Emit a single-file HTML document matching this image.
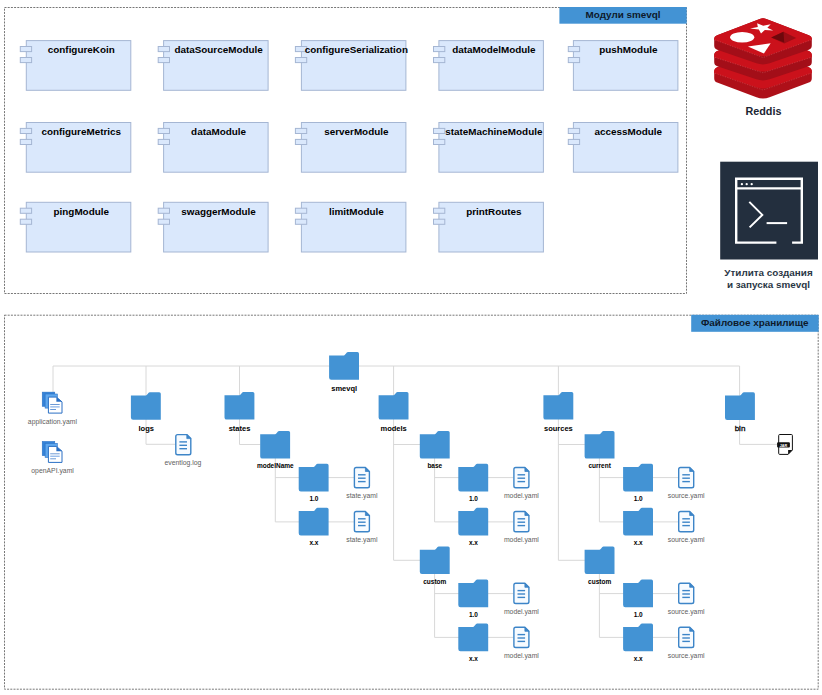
<!DOCTYPE html><html><head><meta charset="utf-8"><style>html,body{margin:0;padding:0;background:#fff;width:822px;height:695px;overflow:hidden}svg{display:block;font-family:"Liberation Sans",sans-serif}</style></head><body>
<svg width="822" height="695" viewBox="0 0 822 695">
<rect width="822" height="695" fill="#fff"/>
<rect x="4.5" y="7.5" width="682" height="286" fill="none" stroke="#777" stroke-width="1" stroke-dasharray="2 1.2"/>
<rect x="559.4" y="7" width="127.3" height="16.7" fill="#4393d4"/>
<text x="623.00" y="18.00" font-size="9.9" font-weight="bold" fill="#0e1a2b" text-anchor="middle">Модули smevql</text>
<rect x="26.30" y="40.60" width="104.5" height="49.7" fill="#dae8fc" stroke="#a5b6d3" stroke-width="1"/><rect x="20.30" y="46.50" width="11.3" height="5.1" fill="#dae8fc" stroke="#a5b6d3" stroke-width="1"/><rect x="20.30" y="57.50" width="11.3" height="5.1" fill="#dae8fc" stroke="#a5b6d3" stroke-width="1"/><text x="81.25" y="52.90" font-size="9.9" font-weight="bold" fill="#000" text-anchor="middle">configureKoin</text>
<rect x="163.60" y="40.60" width="104.5" height="49.7" fill="#dae8fc" stroke="#a5b6d3" stroke-width="1"/><rect x="158.20" y="46.50" width="11.3" height="5.1" fill="#dae8fc" stroke="#a5b6d3" stroke-width="1"/><rect x="158.20" y="57.50" width="11.3" height="5.1" fill="#dae8fc" stroke="#a5b6d3" stroke-width="1"/><text x="218.55" y="52.90" font-size="9.9" font-weight="bold" fill="#000" text-anchor="middle">dataSourceModule</text>
<rect x="301.40" y="40.60" width="104.5" height="49.7" fill="#dae8fc" stroke="#a5b6d3" stroke-width="1"/><rect x="295.40" y="46.50" width="11.3" height="5.1" fill="#dae8fc" stroke="#a5b6d3" stroke-width="1"/><rect x="295.40" y="57.50" width="11.3" height="5.1" fill="#dae8fc" stroke="#a5b6d3" stroke-width="1"/><text x="356.35" y="52.90" font-size="9.9" font-weight="bold" fill="#000" text-anchor="middle">configureSerialization</text>
<rect x="438.90" y="40.60" width="104.5" height="49.7" fill="#dae8fc" stroke="#a5b6d3" stroke-width="1"/><rect x="433.50" y="46.50" width="11.3" height="5.1" fill="#dae8fc" stroke="#a5b6d3" stroke-width="1"/><rect x="433.50" y="57.50" width="11.3" height="5.1" fill="#dae8fc" stroke="#a5b6d3" stroke-width="1"/><text x="493.85" y="52.90" font-size="9.9" font-weight="bold" fill="#000" text-anchor="middle">dataModelModule</text>
<rect x="573.40" y="40.60" width="104.5" height="49.7" fill="#dae8fc" stroke="#a5b6d3" stroke-width="1"/><rect x="568.30" y="46.50" width="11.3" height="5.1" fill="#dae8fc" stroke="#a5b6d3" stroke-width="1"/><rect x="568.30" y="57.50" width="11.3" height="5.1" fill="#dae8fc" stroke="#a5b6d3" stroke-width="1"/><text x="628.35" y="52.90" font-size="9.9" font-weight="bold" fill="#000" text-anchor="middle">pushModule</text>
<rect x="26.30" y="122.50" width="104.5" height="49.7" fill="#dae8fc" stroke="#a5b6d3" stroke-width="1"/><rect x="20.30" y="128.40" width="11.3" height="5.1" fill="#dae8fc" stroke="#a5b6d3" stroke-width="1"/><rect x="20.30" y="139.40" width="11.3" height="5.1" fill="#dae8fc" stroke="#a5b6d3" stroke-width="1"/><text x="81.25" y="134.80" font-size="9.9" font-weight="bold" fill="#000" text-anchor="middle">configureMetrics</text>
<rect x="163.60" y="122.50" width="104.5" height="49.7" fill="#dae8fc" stroke="#a5b6d3" stroke-width="1"/><rect x="158.20" y="128.40" width="11.3" height="5.1" fill="#dae8fc" stroke="#a5b6d3" stroke-width="1"/><rect x="158.20" y="139.40" width="11.3" height="5.1" fill="#dae8fc" stroke="#a5b6d3" stroke-width="1"/><text x="218.55" y="134.80" font-size="9.9" font-weight="bold" fill="#000" text-anchor="middle">dataModule</text>
<rect x="301.40" y="122.50" width="104.5" height="49.7" fill="#dae8fc" stroke="#a5b6d3" stroke-width="1"/><rect x="295.40" y="128.40" width="11.3" height="5.1" fill="#dae8fc" stroke="#a5b6d3" stroke-width="1"/><rect x="295.40" y="139.40" width="11.3" height="5.1" fill="#dae8fc" stroke="#a5b6d3" stroke-width="1"/><text x="356.35" y="134.80" font-size="9.9" font-weight="bold" fill="#000" text-anchor="middle">serverModule</text>
<rect x="438.90" y="122.50" width="104.5" height="49.7" fill="#dae8fc" stroke="#a5b6d3" stroke-width="1"/><rect x="433.50" y="128.40" width="11.3" height="5.1" fill="#dae8fc" stroke="#a5b6d3" stroke-width="1"/><rect x="433.50" y="139.40" width="11.3" height="5.1" fill="#dae8fc" stroke="#a5b6d3" stroke-width="1"/><text x="493.85" y="134.80" font-size="9.9" font-weight="bold" fill="#000" text-anchor="middle">stateMachineModule</text>
<rect x="573.40" y="122.50" width="104.5" height="49.7" fill="#dae8fc" stroke="#a5b6d3" stroke-width="1"/><rect x="568.30" y="128.40" width="11.3" height="5.1" fill="#dae8fc" stroke="#a5b6d3" stroke-width="1"/><rect x="568.30" y="139.40" width="11.3" height="5.1" fill="#dae8fc" stroke="#a5b6d3" stroke-width="1"/><text x="628.35" y="134.80" font-size="9.9" font-weight="bold" fill="#000" text-anchor="middle">accessModule</text>
<rect x="26.30" y="202.30" width="104.5" height="49.7" fill="#dae8fc" stroke="#a5b6d3" stroke-width="1"/><rect x="20.30" y="208.20" width="11.3" height="5.1" fill="#dae8fc" stroke="#a5b6d3" stroke-width="1"/><rect x="20.30" y="219.20" width="11.3" height="5.1" fill="#dae8fc" stroke="#a5b6d3" stroke-width="1"/><text x="81.25" y="214.60" font-size="9.9" font-weight="bold" fill="#000" text-anchor="middle">pingModule</text>
<rect x="163.60" y="202.30" width="104.5" height="49.7" fill="#dae8fc" stroke="#a5b6d3" stroke-width="1"/><rect x="158.20" y="208.20" width="11.3" height="5.1" fill="#dae8fc" stroke="#a5b6d3" stroke-width="1"/><rect x="158.20" y="219.20" width="11.3" height="5.1" fill="#dae8fc" stroke="#a5b6d3" stroke-width="1"/><text x="218.55" y="214.60" font-size="9.9" font-weight="bold" fill="#000" text-anchor="middle">swaggerModule</text>
<rect x="301.40" y="202.30" width="104.5" height="49.7" fill="#dae8fc" stroke="#a5b6d3" stroke-width="1"/><rect x="295.40" y="208.20" width="11.3" height="5.1" fill="#dae8fc" stroke="#a5b6d3" stroke-width="1"/><rect x="295.40" y="219.20" width="11.3" height="5.1" fill="#dae8fc" stroke="#a5b6d3" stroke-width="1"/><text x="356.35" y="214.60" font-size="9.9" font-weight="bold" fill="#000" text-anchor="middle">limitModule</text>
<rect x="438.90" y="202.30" width="104.5" height="49.7" fill="#dae8fc" stroke="#a5b6d3" stroke-width="1"/><rect x="433.50" y="208.20" width="11.3" height="5.1" fill="#dae8fc" stroke="#a5b6d3" stroke-width="1"/><rect x="433.50" y="219.20" width="11.3" height="5.1" fill="#dae8fc" stroke="#a5b6d3" stroke-width="1"/><text x="493.85" y="214.60" font-size="9.9" font-weight="bold" fill="#000" text-anchor="middle">printRoutes</text>
<path d="M714.20,71.60 Q714.20,68.40 717.19,67.27 L759.73,51.23 Q763.00,50.00 766.27,51.23 L808.81,67.27 Q811.80,68.40 811.80,71.60 L811.80,78.20 Q811.80,81.40 808.81,82.53 L769.55,97.33 Q763.00,99.80 756.45,97.33 L717.19,82.53 Q714.20,81.40 714.20,78.20 Z" fill="#ae1019"/><path d="M714.20,70.70 Q714.20,68.40 717.19,67.27 L759.73,51.23 Q763.00,50.00 766.27,51.23 L808.81,67.27 Q811.80,68.40 811.80,70.70 L811.80,73.00 Q811.80,73.00 811.80,73.00 L769.63,87.35 Q763.00,89.60 756.37,87.35 L714.20,73.00 Q714.20,73.00 714.20,73.00 Z" fill="#cb111b"/><path d="M714.20,55.20 Q714.20,52.00 717.20,50.89 L759.72,35.21 Q763.00,34.00 766.28,35.21 L808.80,50.89 Q811.80,52.00 811.80,55.20 L811.80,62.10 Q811.80,65.30 808.76,66.31 L769.64,79.29 Q763.00,81.50 756.36,79.29 L717.24,66.31 Q714.20,65.30 714.20,62.10 Z" fill="#a30e18"/><path d="M714.20,54.60 Q714.20,52.00 717.20,50.89 L759.72,35.21 Q763.00,34.00 766.28,35.21 L808.80,50.89 Q811.80,52.00 811.80,54.60 L811.80,57.20 Q811.80,57.20 811.80,57.20 L769.68,70.49 Q763.00,72.60 756.32,70.49 L714.20,57.20 Q714.20,57.20 714.20,57.20 Z" fill="#cb111b"/><path d="M714.20,39.50 Q714.20,36.30 717.19,35.16 L759.73,18.95 Q763.00,17.70 766.27,18.95 L808.81,35.16 Q811.80,36.30 811.80,39.50 L811.80,45.60 Q811.80,48.80 808.77,49.84 L769.62,63.32 Q763.00,65.60 756.38,63.32 L717.23,49.84 Q714.20,48.80 714.20,45.60 Z" fill="#a30e18"/><path d="M714.20,38.00 Q714.20,36.30 717.19,35.16 L759.73,18.95 Q763.00,17.70 766.27,18.95 L808.81,35.16 Q811.80,36.30 811.80,38.00 L811.80,39.70 Q811.80,39.70 811.80,39.70 L769.58,55.01 Q763.00,57.40 756.42,55.01 L714.20,39.70 Q714.20,39.70 714.20,39.70 Z" fill="#cb111b"/><path d="M715,39.9 L763,57.6 L811,39.9 M715,57.4 L763,72.8 L811,57.4 M715,73.2 L763,90.0 L811,73.2" fill="none" stroke="#f0a0a0" stroke-width="0.45" stroke-dasharray="1.3 1.3" opacity="0.55"/><ellipse cx="742.2" cy="37.3" rx="12.1" ry="5.3" fill="#fff"/><polygon points="757.10,23.30 763.18,25.79 770.70,24.20 767.37,27.69 773.20,30.60 764.84,30.11 761.00,33.50 758.84,29.59 750.10,28.60 757.82,26.93" fill="#fff"/><polygon points="747.9,46.6 770.7,43.2 763.9,53.4" fill="#fff"/><polygon points="771.2,37.6 783.5,31.8 796.2,37.9 784.2,43.6" fill="#9a0d15"/><polygon points="771.2,37.6 783.5,31.8 784.2,42.5" fill="#6e080c"/>
<text x="763.40" y="114.60" font-size="10.8" font-weight="bold" fill="#1b2533" text-anchor="middle">Reddis</text>
<rect x="720.2" y="161.7" width="97.8" height="97.8" fill="#232f3e"/>
<g fill="none" stroke="#fff" stroke-width="2.4"><path d="M776.4,242.6 L736.2,242.6 L736.2,178.8 L801.8,178.8 L801.8,242.6 L792.1,242.6"/><line x1="736.2" y1="188.4" x2="801.8" y2="188.4"/><path d="M749.3,201.9 L762.3,214.9 L749.6,227.4" stroke-width="2"/><line x1="766.6" y1="223.1" x2="787.1" y2="223.1" stroke-width="2"/></g>
<circle cx="741.9" cy="184.2" r="1.15" fill="#fff"/>
<circle cx="746.7" cy="184.2" r="1.15" fill="#fff"/>
<circle cx="751.7" cy="184.2" r="1.15" fill="#fff"/>
<text x="768.50" y="276.30" font-size="9.9" font-weight="bold" fill="#2a3645" text-anchor="middle">Утилита создания</text>
<text x="768.50" y="288.00" font-size="9.9" font-weight="bold" fill="#2a3645" text-anchor="middle">и запуска smevql</text>
<rect x="4.5" y="315.2" width="813.7" height="374" fill="none" stroke="#777" stroke-width="1" stroke-dasharray="2 1.2"/>
<rect x="691.2" y="314.8" width="127.5" height="17" fill="#4393d4"/>
<text x="754.70" y="326.10" font-size="9.9" font-weight="bold" fill="#0e1a2b" text-anchor="middle">Файловое хранилище</text>
<path d="M53,366.0 L739.6,366.0 M53,366.0 L53,392 M146,366.0 L146,444.3 M146,444.3 L175.5,444.3 M239.5,366.0 L239.5,444.5 M239.5,444.5 L260.5,444.5 M275.3,458 L275.3,521.9 M275.3,477.6 L354,477.6 M275.3,521.9 L354,521.9 M393.6,366.0 L393.6,560.3 M393.6,444.5 L420.1,444.5 M393.6,560.3 L420.1,560.3 M434.6,458 L434.6,521.9 M434.6,477.6 L513.6,477.6 M434.6,521.9 L513.6,521.9 M434.6,573.5 L434.6,637.4 M434.6,593.6 L513.6,593.6 M434.6,637.4 L513.6,637.4 M558.4000000000001,366.0 L558.4000000000001,560.3 M558.4000000000001,444.5 L584.9000000000001,444.5 M558.4000000000001,560.3 L584.9000000000001,560.3 M599.4000000000001,458 L599.4000000000001,521.9 M599.4000000000001,477.6 L678.4000000000001,477.6 M599.4000000000001,521.9 L678.4000000000001,521.9 M599.4000000000001,573.5 L599.4000000000001,637.4 M599.4000000000001,593.6 L678.4000000000001,593.6 M599.4000000000001,637.4 L678.4000000000001,637.4 M739.6,366.0 L739.6,444.4 M739.6,444.4 L778,444.4" stroke="#d8d8d8" stroke-width="1" fill="none"/>
<rect x="42.20" y="392.10" width="12.6" height="14.3" fill="#3584d8" stroke="#2a6fc4" stroke-width="0.5"/><rect x="45.10" y="394.00" width="12.2" height="14.1" fill="#60a8ee" stroke="#2a6fc4" stroke-width="0.6"/><path d="M48.40,397.10 L56.40,397.10 L62.00,401.86 L62.00,413.10 L48.40,413.10 Z" fill="#ffffff" stroke="#2a6fc4" stroke-width="1.0"/><path d="M56.40,397.10 L56.40,401.86 L62.00,401.86 Z" fill="#2a6fc4"/><line x1="50.20" y1="404.50" x2="59.70" y2="404.50" stroke="#5e8fd0" stroke-width="0.9"/><line x1="50.20" y1="406.90" x2="59.70" y2="406.90" stroke="#7aa8e4" stroke-width="1.1"/><line x1="50.20" y1="409.50" x2="56.00" y2="409.50" stroke="#6a9ad8" stroke-width="1.0"/>
<text x="52.40" y="423.80" font-size="6.85" fill="#5e5e5e" text-anchor="middle">application.yaml</text>
<rect x="42.20" y="441.40" width="12.6" height="14.3" fill="#3584d8" stroke="#2a6fc4" stroke-width="0.5"/><rect x="45.10" y="443.30" width="12.2" height="14.1" fill="#60a8ee" stroke="#2a6fc4" stroke-width="0.6"/><path d="M48.40,446.40 L56.40,446.40 L62.00,451.16 L62.00,462.40 L48.40,462.40 Z" fill="#ffffff" stroke="#2a6fc4" stroke-width="1.0"/><path d="M56.40,446.40 L56.40,451.16 L62.00,451.16 Z" fill="#2a6fc4"/><line x1="50.20" y1="453.80" x2="59.70" y2="453.80" stroke="#5e8fd0" stroke-width="0.9"/><line x1="50.20" y1="456.20" x2="59.70" y2="456.20" stroke="#7aa8e4" stroke-width="1.1"/><line x1="50.20" y1="458.80" x2="56.00" y2="458.80" stroke="#6a9ad8" stroke-width="1.0"/>
<text x="52.60" y="472.70" font-size="6.85" fill="#5e5e5e" text-anchor="middle">openAPI.yaml</text>
<path d="M329.10,355.40 L344.05,355.40 C345.25,355.40 346.34,352.10 347.94,352.10 L357.40,352.10 Q359.00,352.10 359.00,353.70 L359.00,379.70 L331.30,379.70 Q329.10,379.70 329.10,377.50 Z" fill="#4393d4"/>
<text transform="translate(344.20,390.80) scale(0.94,1)" font-size="8.0" font-weight="bold" fill="#000" text-anchor="middle">smevql</text>
<path d="M130.90,395.50 L145.85,395.50 C147.05,395.50 148.14,392.20 149.74,392.20 L159.20,392.20 Q160.80,392.20 160.80,393.80 L160.80,419.80 L133.10,419.80 Q130.90,419.80 130.90,417.60 Z" fill="#4393d4"/>
<text transform="translate(146.20,430.60) scale(0.94,1)" font-size="8.0" font-weight="bold" fill="#000" text-anchor="middle">logs</text>
<path d="M177.60,434.60 L186.80,434.60 L190.80,438.60 L190.80,453.00 Q190.80,454.80 189.00,454.80 L177.60,454.80 Q175.80,454.80 175.80,453.00 L175.80,436.40 Q175.80,434.60 177.60,434.60 Z" fill="#f7fbff" stroke="#3d85c8" stroke-width="1.4" stroke-linejoin="round"/><path d="M186.80,434.60 L186.80,438.60 L190.80,438.60 Z" fill="#3d85c8" stroke="#3d85c8" stroke-width="0.8" stroke-linejoin="round"/><line x1="179.40" y1="441.90" x2="187.00" y2="441.90" stroke="#3d85c8" stroke-width="1.4"/><line x1="179.40" y1="445.30" x2="187.00" y2="445.30" stroke="#3d85c8" stroke-width="1.4"/><line x1="179.40" y1="448.70" x2="187.00" y2="448.70" stroke="#3d85c8" stroke-width="1.4"/>
<text x="182.90" y="464.90" font-size="6.85" fill="#5e5e5e" text-anchor="middle">eventlog.log</text>
<path d="M224.50,395.30 L239.45,395.30 C240.65,395.30 241.74,392.00 243.34,392.00 L252.80,392.00 Q254.40,392.00 254.40,393.60 L254.40,419.60 L226.70,419.60 Q224.50,419.60 224.50,417.40 Z" fill="#4393d4"/>
<text transform="translate(239.50,430.50) scale(0.94,1)" font-size="8.0" font-weight="bold" fill="#000" text-anchor="middle">states</text>
<path d="M260.20,434.30 L275.15,434.30 C276.35,434.30 277.44,431.00 279.04,431.00 L288.50,431.00 Q290.10,431.00 290.10,432.60 L290.10,458.60 L262.40,458.60 Q260.20,458.60 260.20,456.40 Z" fill="#4393d4"/>
<text transform="translate(275.30,467.80) scale(0.93,1)" font-size="7.0" font-weight="bold" fill="#000" text-anchor="middle">modelName</text>
<path d="M298.70,467.10 L313.65,467.10 C314.85,467.10 315.94,463.80 317.54,463.80 L327.00,463.80 Q328.60,463.80 328.60,465.40 L328.60,491.40 L300.90,491.40 Q298.70,491.40 298.70,489.20 Z" fill="#4393d4"/>
<text transform="translate(313.90,500.70) scale(0.93,1)" font-size="7.0" font-weight="bold" fill="#000" text-anchor="middle">1.0</text>
<path d="M356.20,467.50 L365.40,467.50 L369.40,471.50 L369.40,485.90 Q369.40,487.70 367.60,487.70 L356.20,487.70 Q354.40,487.70 354.40,485.90 L354.40,469.30 Q354.40,467.50 356.20,467.50 Z" fill="#f7fbff" stroke="#3d85c8" stroke-width="1.4" stroke-linejoin="round"/><path d="M365.40,467.50 L365.40,471.50 L369.40,471.50 Z" fill="#3d85c8" stroke="#3d85c8" stroke-width="0.8" stroke-linejoin="round"/><line x1="358.00" y1="474.80" x2="365.60" y2="474.80" stroke="#3d85c8" stroke-width="1.4"/><line x1="358.00" y1="478.20" x2="365.60" y2="478.20" stroke="#3d85c8" stroke-width="1.4"/><line x1="358.00" y1="481.60" x2="365.60" y2="481.60" stroke="#3d85c8" stroke-width="1.4"/>
<text x="361.90" y="497.70" font-size="6.85" fill="#5e5e5e" text-anchor="middle">state.yaml</text>
<path d="M298.70,511.10 L313.65,511.10 C314.85,511.10 315.94,507.80 317.54,507.80 L327.00,507.80 Q328.60,507.80 328.60,509.40 L328.60,535.40 L300.90,535.40 Q298.70,535.40 298.70,533.20 Z" fill="#4393d4"/>
<text transform="translate(313.90,544.70) scale(0.93,1)" font-size="7.0" font-weight="bold" fill="#000" text-anchor="middle">x.x</text>
<path d="M356.20,511.50 L365.40,511.50 L369.40,515.50 L369.40,529.90 Q369.40,531.70 367.60,531.70 L356.20,531.70 Q354.40,531.70 354.40,529.90 L354.40,513.30 Q354.40,511.50 356.20,511.50 Z" fill="#f7fbff" stroke="#3d85c8" stroke-width="1.4" stroke-linejoin="round"/><path d="M365.40,511.50 L365.40,515.50 L369.40,515.50 Z" fill="#3d85c8" stroke="#3d85c8" stroke-width="0.8" stroke-linejoin="round"/><line x1="358.00" y1="518.80" x2="365.60" y2="518.80" stroke="#3d85c8" stroke-width="1.4"/><line x1="358.00" y1="522.20" x2="365.60" y2="522.20" stroke="#3d85c8" stroke-width="1.4"/><line x1="358.00" y1="525.60" x2="365.60" y2="525.60" stroke="#3d85c8" stroke-width="1.4"/>
<text x="361.90" y="541.70" font-size="6.85" fill="#5e5e5e" text-anchor="middle">state.yaml</text>
<path d="M378.60,395.30 L393.55,395.30 C394.75,395.30 395.84,392.00 397.44,392.00 L406.90,392.00 Q408.50,392.00 408.50,393.60 L408.50,419.60 L380.80,419.60 Q378.60,419.60 378.60,417.40 Z" fill="#4393d4"/>
<text transform="translate(393.60,430.50) scale(0.94,1)" font-size="8.0" font-weight="bold" fill="#000" text-anchor="middle">models</text>
<path d="M419.80,434.30 L434.75,434.30 C435.95,434.30 437.04,431.00 438.64,431.00 L448.10,431.00 Q449.70,431.00 449.70,432.60 L449.70,458.60 L422.00,458.60 Q419.80,458.60 419.80,456.40 Z" fill="#4393d4"/>
<text transform="translate(434.80,467.80) scale(0.93,1)" font-size="7.0" font-weight="bold" fill="#000" text-anchor="middle">base</text>
<path d="M419.80,549.70 L434.75,549.70 C435.95,549.70 437.04,546.40 438.64,546.40 L448.10,546.40 Q449.70,546.40 449.70,548.00 L449.70,574.00 L422.00,574.00 Q419.80,574.00 419.80,571.80 Z" fill="#4393d4"/>
<text transform="translate(434.80,583.80) scale(0.93,1)" font-size="7.0" font-weight="bold" fill="#000" text-anchor="middle">custom</text>
<path d="M458.30,467.10 L473.25,467.10 C474.45,467.10 475.54,463.80 477.14,463.80 L486.60,463.80 Q488.20,463.80 488.20,465.40 L488.20,491.40 L460.50,491.40 Q458.30,491.40 458.30,489.20 Z" fill="#4393d4"/>
<text transform="translate(473.40,500.70) scale(0.93,1)" font-size="7.0" font-weight="bold" fill="#000" text-anchor="middle">1.0</text>
<path d="M515.70,467.50 L524.90,467.50 L528.90,471.50 L528.90,485.90 Q528.90,487.70 527.10,487.70 L515.70,487.70 Q513.90,487.70 513.90,485.90 L513.90,469.30 Q513.90,467.50 515.70,467.50 Z" fill="#f7fbff" stroke="#3d85c8" stroke-width="1.4" stroke-linejoin="round"/><path d="M524.90,467.50 L524.90,471.50 L528.90,471.50 Z" fill="#3d85c8" stroke="#3d85c8" stroke-width="0.8" stroke-linejoin="round"/><line x1="517.50" y1="474.80" x2="525.10" y2="474.80" stroke="#3d85c8" stroke-width="1.4"/><line x1="517.50" y1="478.20" x2="525.10" y2="478.20" stroke="#3d85c8" stroke-width="1.4"/><line x1="517.50" y1="481.60" x2="525.10" y2="481.60" stroke="#3d85c8" stroke-width="1.4"/>
<text x="521.40" y="497.70" font-size="6.85" fill="#5e5e5e" text-anchor="middle">model.yaml</text>
<path d="M458.30,511.10 L473.25,511.10 C474.45,511.10 475.54,507.80 477.14,507.80 L486.60,507.80 Q488.20,507.80 488.20,509.40 L488.20,535.40 L460.50,535.40 Q458.30,535.40 458.30,533.20 Z" fill="#4393d4"/>
<text transform="translate(473.40,544.70) scale(0.93,1)" font-size="7.0" font-weight="bold" fill="#000" text-anchor="middle">x.x</text>
<path d="M515.70,511.50 L524.90,511.50 L528.90,515.50 L528.90,529.90 Q528.90,531.70 527.10,531.70 L515.70,531.70 Q513.90,531.70 513.90,529.90 L513.90,513.30 Q513.90,511.50 515.70,511.50 Z" fill="#f7fbff" stroke="#3d85c8" stroke-width="1.4" stroke-linejoin="round"/><path d="M524.90,511.50 L524.90,515.50 L528.90,515.50 Z" fill="#3d85c8" stroke="#3d85c8" stroke-width="0.8" stroke-linejoin="round"/><line x1="517.50" y1="518.80" x2="525.10" y2="518.80" stroke="#3d85c8" stroke-width="1.4"/><line x1="517.50" y1="522.20" x2="525.10" y2="522.20" stroke="#3d85c8" stroke-width="1.4"/><line x1="517.50" y1="525.60" x2="525.10" y2="525.60" stroke="#3d85c8" stroke-width="1.4"/>
<text x="521.40" y="541.70" font-size="6.85" fill="#5e5e5e" text-anchor="middle">model.yaml</text>
<path d="M458.30,582.90 L473.25,582.90 C474.45,582.90 475.54,579.60 477.14,579.60 L486.60,579.60 Q488.20,579.60 488.20,581.20 L488.20,607.20 L460.50,607.20 Q458.30,607.20 458.30,605.00 Z" fill="#4393d4"/>
<text transform="translate(473.40,616.50) scale(0.93,1)" font-size="7.0" font-weight="bold" fill="#000" text-anchor="middle">1.0</text>
<path d="M515.70,583.30 L524.90,583.30 L528.90,587.30 L528.90,601.70 Q528.90,603.50 527.10,603.50 L515.70,603.50 Q513.90,603.50 513.90,601.70 L513.90,585.10 Q513.90,583.30 515.70,583.30 Z" fill="#f7fbff" stroke="#3d85c8" stroke-width="1.4" stroke-linejoin="round"/><path d="M524.90,583.30 L524.90,587.30 L528.90,587.30 Z" fill="#3d85c8" stroke="#3d85c8" stroke-width="0.8" stroke-linejoin="round"/><line x1="517.50" y1="590.60" x2="525.10" y2="590.60" stroke="#3d85c8" stroke-width="1.4"/><line x1="517.50" y1="594.00" x2="525.10" y2="594.00" stroke="#3d85c8" stroke-width="1.4"/><line x1="517.50" y1="597.40" x2="525.10" y2="597.40" stroke="#3d85c8" stroke-width="1.4"/>
<text x="521.40" y="613.50" font-size="6.85" fill="#5e5e5e" text-anchor="middle">model.yaml</text>
<path d="M458.30,626.90 L473.25,626.90 C474.45,626.90 475.54,623.60 477.14,623.60 L486.60,623.60 Q488.20,623.60 488.20,625.20 L488.20,651.20 L460.50,651.20 Q458.30,651.20 458.30,649.00 Z" fill="#4393d4"/>
<text transform="translate(473.40,660.50) scale(0.93,1)" font-size="7.0" font-weight="bold" fill="#000" text-anchor="middle">x.x</text>
<path d="M515.70,627.30 L524.90,627.30 L528.90,631.30 L528.90,645.70 Q528.90,647.50 527.10,647.50 L515.70,647.50 Q513.90,647.50 513.90,645.70 L513.90,629.10 Q513.90,627.30 515.70,627.30 Z" fill="#f7fbff" stroke="#3d85c8" stroke-width="1.4" stroke-linejoin="round"/><path d="M524.90,627.30 L524.90,631.30 L528.90,631.30 Z" fill="#3d85c8" stroke="#3d85c8" stroke-width="0.8" stroke-linejoin="round"/><line x1="517.50" y1="634.60" x2="525.10" y2="634.60" stroke="#3d85c8" stroke-width="1.4"/><line x1="517.50" y1="638.00" x2="525.10" y2="638.00" stroke="#3d85c8" stroke-width="1.4"/><line x1="517.50" y1="641.40" x2="525.10" y2="641.40" stroke="#3d85c8" stroke-width="1.4"/>
<text x="521.40" y="657.50" font-size="6.85" fill="#5e5e5e" text-anchor="middle">model.yaml</text>
<path d="M543.40,395.30 L558.35,395.30 C559.55,395.30 560.64,392.00 562.24,392.00 L571.70,392.00 Q573.30,392.00 573.30,393.60 L573.30,419.60 L545.60,419.60 Q543.40,419.60 543.40,417.40 Z" fill="#4393d4"/>
<text transform="translate(558.40,430.50) scale(0.94,1)" font-size="8.0" font-weight="bold" fill="#000" text-anchor="middle">sources</text>
<path d="M584.60,434.30 L599.55,434.30 C600.75,434.30 601.84,431.00 603.44,431.00 L612.90,431.00 Q614.50,431.00 614.50,432.60 L614.50,458.60 L586.80,458.60 Q584.60,458.60 584.60,456.40 Z" fill="#4393d4"/>
<text transform="translate(599.60,467.80) scale(0.93,1)" font-size="7.0" font-weight="bold" fill="#000" text-anchor="middle">current</text>
<path d="M584.60,549.70 L599.55,549.70 C600.75,549.70 601.84,546.40 603.44,546.40 L612.90,546.40 Q614.50,546.40 614.50,548.00 L614.50,574.00 L586.80,574.00 Q584.60,574.00 584.60,571.80 Z" fill="#4393d4"/>
<text transform="translate(599.60,583.80) scale(0.93,1)" font-size="7.0" font-weight="bold" fill="#000" text-anchor="middle">custom</text>
<path d="M623.10,467.10 L638.05,467.10 C639.25,467.10 640.34,463.80 641.94,463.80 L651.40,463.80 Q653.00,463.80 653.00,465.40 L653.00,491.40 L625.30,491.40 Q623.10,491.40 623.10,489.20 Z" fill="#4393d4"/>
<text transform="translate(638.20,500.70) scale(0.93,1)" font-size="7.0" font-weight="bold" fill="#000" text-anchor="middle">1.0</text>
<path d="M680.50,467.50 L689.70,467.50 L693.70,471.50 L693.70,485.90 Q693.70,487.70 691.90,487.70 L680.50,487.70 Q678.70,487.70 678.70,485.90 L678.70,469.30 Q678.70,467.50 680.50,467.50 Z" fill="#f7fbff" stroke="#3d85c8" stroke-width="1.4" stroke-linejoin="round"/><path d="M689.70,467.50 L689.70,471.50 L693.70,471.50 Z" fill="#3d85c8" stroke="#3d85c8" stroke-width="0.8" stroke-linejoin="round"/><line x1="682.30" y1="474.80" x2="689.90" y2="474.80" stroke="#3d85c8" stroke-width="1.4"/><line x1="682.30" y1="478.20" x2="689.90" y2="478.20" stroke="#3d85c8" stroke-width="1.4"/><line x1="682.30" y1="481.60" x2="689.90" y2="481.60" stroke="#3d85c8" stroke-width="1.4"/>
<text x="686.20" y="497.70" font-size="6.85" fill="#5e5e5e" text-anchor="middle">source.yaml</text>
<path d="M623.10,511.10 L638.05,511.10 C639.25,511.10 640.34,507.80 641.94,507.80 L651.40,507.80 Q653.00,507.80 653.00,509.40 L653.00,535.40 L625.30,535.40 Q623.10,535.40 623.10,533.20 Z" fill="#4393d4"/>
<text transform="translate(638.20,544.70) scale(0.93,1)" font-size="7.0" font-weight="bold" fill="#000" text-anchor="middle">x.x</text>
<path d="M680.50,511.50 L689.70,511.50 L693.70,515.50 L693.70,529.90 Q693.70,531.70 691.90,531.70 L680.50,531.70 Q678.70,531.70 678.70,529.90 L678.70,513.30 Q678.70,511.50 680.50,511.50 Z" fill="#f7fbff" stroke="#3d85c8" stroke-width="1.4" stroke-linejoin="round"/><path d="M689.70,511.50 L689.70,515.50 L693.70,515.50 Z" fill="#3d85c8" stroke="#3d85c8" stroke-width="0.8" stroke-linejoin="round"/><line x1="682.30" y1="518.80" x2="689.90" y2="518.80" stroke="#3d85c8" stroke-width="1.4"/><line x1="682.30" y1="522.20" x2="689.90" y2="522.20" stroke="#3d85c8" stroke-width="1.4"/><line x1="682.30" y1="525.60" x2="689.90" y2="525.60" stroke="#3d85c8" stroke-width="1.4"/>
<text x="686.20" y="541.70" font-size="6.85" fill="#5e5e5e" text-anchor="middle">source.yaml</text>
<path d="M623.10,582.90 L638.05,582.90 C639.25,582.90 640.34,579.60 641.94,579.60 L651.40,579.60 Q653.00,579.60 653.00,581.20 L653.00,607.20 L625.30,607.20 Q623.10,607.20 623.10,605.00 Z" fill="#4393d4"/>
<text transform="translate(638.20,616.50) scale(0.93,1)" font-size="7.0" font-weight="bold" fill="#000" text-anchor="middle">1.0</text>
<path d="M680.50,583.30 L689.70,583.30 L693.70,587.30 L693.70,601.70 Q693.70,603.50 691.90,603.50 L680.50,603.50 Q678.70,603.50 678.70,601.70 L678.70,585.10 Q678.70,583.30 680.50,583.30 Z" fill="#f7fbff" stroke="#3d85c8" stroke-width="1.4" stroke-linejoin="round"/><path d="M689.70,583.30 L689.70,587.30 L693.70,587.30 Z" fill="#3d85c8" stroke="#3d85c8" stroke-width="0.8" stroke-linejoin="round"/><line x1="682.30" y1="590.60" x2="689.90" y2="590.60" stroke="#3d85c8" stroke-width="1.4"/><line x1="682.30" y1="594.00" x2="689.90" y2="594.00" stroke="#3d85c8" stroke-width="1.4"/><line x1="682.30" y1="597.40" x2="689.90" y2="597.40" stroke="#3d85c8" stroke-width="1.4"/>
<text x="686.20" y="613.50" font-size="6.85" fill="#5e5e5e" text-anchor="middle">source.yaml</text>
<path d="M623.10,626.90 L638.05,626.90 C639.25,626.90 640.34,623.60 641.94,623.60 L651.40,623.60 Q653.00,623.60 653.00,625.20 L653.00,651.20 L625.30,651.20 Q623.10,651.20 623.10,649.00 Z" fill="#4393d4"/>
<text transform="translate(638.20,660.50) scale(0.93,1)" font-size="7.0" font-weight="bold" fill="#000" text-anchor="middle">x.x</text>
<path d="M680.50,627.30 L689.70,627.30 L693.70,631.30 L693.70,645.70 Q693.70,647.50 691.90,647.50 L680.50,647.50 Q678.70,647.50 678.70,645.70 L678.70,629.10 Q678.70,627.30 680.50,627.30 Z" fill="#f7fbff" stroke="#3d85c8" stroke-width="1.4" stroke-linejoin="round"/><path d="M689.70,627.30 L689.70,631.30 L693.70,631.30 Z" fill="#3d85c8" stroke="#3d85c8" stroke-width="0.8" stroke-linejoin="round"/><line x1="682.30" y1="634.60" x2="689.90" y2="634.60" stroke="#3d85c8" stroke-width="1.4"/><line x1="682.30" y1="638.00" x2="689.90" y2="638.00" stroke="#3d85c8" stroke-width="1.4"/><line x1="682.30" y1="641.40" x2="689.90" y2="641.40" stroke="#3d85c8" stroke-width="1.4"/>
<text x="686.20" y="657.50" font-size="6.85" fill="#5e5e5e" text-anchor="middle">source.yaml</text>
<path d="M725.00,395.60 L739.95,395.60 C741.15,395.60 742.24,392.30 743.84,392.30 L753.30,392.30 Q754.90,392.30 754.90,393.90 L754.90,419.90 L727.20,419.90 Q725.00,419.90 725.00,417.70 Z" fill="#4393d4"/>
<text x="740.00" y="430.70" font-size="8.0" stroke="#000" stroke-width="0.28" fill="#000" text-anchor="middle">bin</text>
<path d="M779.7,434.5 L791.4,434.5 Q792.4,434.5 792.4,435.5 L792.4,450.0 L788.1,454.4 L779.7,454.4 Q778.7,454.4 778.7,453.4 L778.7,435.5 Q778.7,434.5 779.7,434.5 Z" fill="#fff" stroke="#111" stroke-width="1"/>
<path d="M788.1,450.0 L792.4,450.0 L788.1,454.4 Z" fill="#111"/>
<rect x="777.1" y="442.2" width="12.8" height="5.4" rx="1" fill="#111"/>
<text x="783.5" y="446.6" font-size="3.8" font-weight="bold" fill="#fff" text-anchor="middle">JAR</text>
</svg></body></html>
